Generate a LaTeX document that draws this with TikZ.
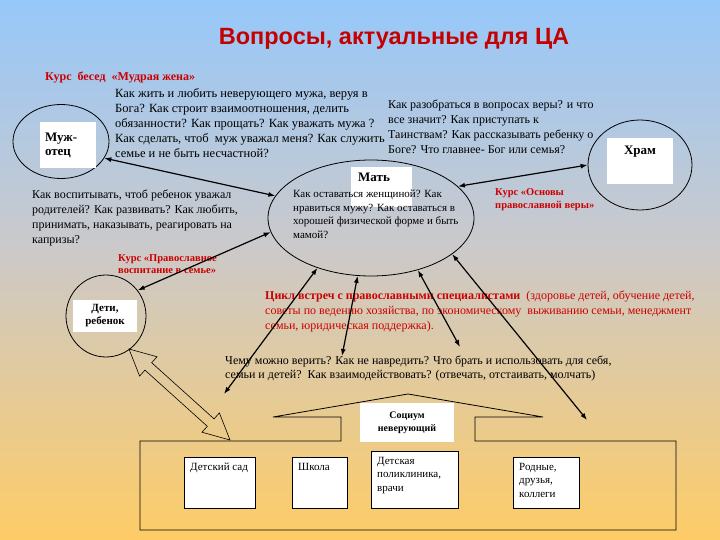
\documentclass[tikz,border=0pt]{standalone}
\usepackage{fontspec}
\setmainfont{Liberation Serif}
\newfontfamily\arialf{Liberation Sans}
\usetikzlibrary{shapes.geometric,arrows.meta}
\definecolor{rd}{RGB}{204,0,0}
\definecolor{ttl}{RGB}{196,0,0}
\definecolor{bgtop}{RGB}{150,200,250}
\definecolor{bgmid}{RGB}{202,201,204}
\definecolor{bgbot}{RGB}{254,204,102}
\begin{document}
\begin{tikzpicture}[x=1pt,y=-1pt,
  txt/.style={anchor=north west, inner sep=0, align=left, font=\fontsize{12}{15}\selectfont},
  redtxt/.style={anchor=north west, inner sep=0, align=left, text=rd, font=\bfseries\fontsize{10.5}{12.5}\selectfont},
  oval/.style={ellipse, draw, line width=0.8pt, inner sep=0},
  wlabel/.style={fill=white, inner sep=0, align=center, font=\bfseries\fontsize{13}{14}\selectfont},
  wbox/.style={draw, fill=white, line width=0.8pt, inner sep=0, anchor=north west},
  boxtxt/.style={anchor=north west, inner sep=0, align=left, font=\fontsize{11}{13.5}\selectfont},
  link/.style={line width=1.2pt, {Latex[length=7pt,width=5pt]}-{Latex[length=7pt,width=5pt]}}
]
\shade[top color=bgtop, bottom color=bgmid] (0,0) rectangle (720,240);
\shade[top color=bgmid, bottom color=bgbot] (0,240) rectangle (720,540);
\useasboundingbox (0,0) rectangle (720,540);

\node[font=\arialf\bfseries\fontsize{23.5}{26}\selectfont, text=ttl, inner sep=0, anchor=base] (title) at (394,45) {Вопросы, актуальные для ЦА};

% ellipses
\node[oval, minimum width=96, minimum height=74] (muzh) at (61,141.5) {};
\node[oval, minimum width=206, minimum height=116] (mat) at (371,218) {};
\node[oval, minimum width=104, minimum height=90] (hram) at (640,165) {};
\node[oval, minimum width=80, minimum height=82] (deti) at (106,316) {};

% white label boxes
\node[wlabel, minimum width=56, minimum height=46, text width=46, inner xsep=5, align=left] (muzhl) at (68,145) {Муж-\\отец};
\node[fill=white, minimum width=61, minimum height=40, anchor=north west, inner sep=0] (matbox) at (351,167) {};
\node[font=\bfseries\fontsize{13}{14}\selectfont, anchor=base west, inner sep=0] (matl) at (358,182) {Мать};
\node[fill=white, minimum width=66, minimum height=46, anchor=north west, inner sep=0] (hrambox) at (607,138) {};
\node[font=\bfseries\fontsize{13}{14}\selectfont, anchor=base, inner sep=0] (hraml) at (640,155) {Храм};
\node[wlabel, font=\bfseries\fontsize{11}{13}\selectfont, minimum width=64, minimum height=32] (detil) at (105,316) {Дети,\\ребенок};

% house
\draw[line width=0.8pt] (140,441) -- (341,441) -- (341,417) -- (273,417) -- (408,394) -- (543,417) -- (475,417) -- (475,441) -- (676,441) -- (676,530) -- (140,530) -- cycle;
\node[wlabel, font=\bfseries\fontsize{10}{13}\selectfont, minimum width=94, minimum height=39] (soc) at (407,422.5) {Социум\\неверующий};

\node[wbox, minimum width=71, minimum height=51] (sad) at (184,457) {};
\node[wbox, minimum width=55, minimum height=51] (shk) at (292,457) {};
\node[wbox, minimum width=87, minimum height=57] (pol) at (371,451) {};
\node[wbox, minimum width=66, minimum height=51] (rod) at (513,457) {};
\node[boxtxt] (sadt) at (190,463) {Детский сад};
\node[boxtxt] (shkt) at (298,463) {Школа};
\node[boxtxt] (polt) at (377,457) {Детская\\поликлиника,\\врачи};
\node[boxtxt] (rodt) at (519,463) {Родные,\\друзья,\\коллеги};

% texts
\node[redtxt, font=\bfseries\fontsize{12}{13}\selectfont] (kurs1) at (45,72) {Курс\ \ бесед\ \ «Мудрая жена»};
\node[txt, font=\fontsize{12.5}{15}\selectfont] (q1) at (115,88.5) {Как жить и любить неверующего мужа, веруя в\\Бога? Как строит взаимоотношения, делить\\обязанности? Как прощать? Как уважать мужа ?\\Как сделать, чтоб\ \ муж уважал меня? Как служить\\семье и не быть несчастной?};
\node[txt] (q2) at (388,99.6) {Как разобраться в вопросах веры? и что\\все значит? Как приступать к\\Таинствам? Как рассказывать ребенку о\\Боге? Что главнее- Бог или семья?};
\node[txt] (q3) at (32,189.6) {Как воспитывать, чтоб ребенок уважал\\родителей? Как развивать? Как любить,\\принимать, наказывать, реагировать на\\капризы?};
\node[txt, font=\fontsize{11}{13.5}\selectfont] (q4) at (293,190) {Как оставаться женщиной? Как\\нравиться мужу? Как оставаться в\\хорошей физической форме и быть\\мамой?};
\node[redtxt] (kurs2) at (495,188.5) {Курс «Основы\\православной веры»};
\node[redtxt] (kurs3) at (118,254) {Курс «Православное\\воспитание в семье»};
\node[txt, text=rd] (cycle) at (265,290.6) {{\bfseries Цикл встреч с православными специалистами}\ \ (здоровье детей, обучение детей,\\советы по ведению хозяйства, по экономическому\ \ выживанию семьи, менеджмент\\семьи, юридическая поддержка).};
\node[txt, font=\fontsize{12}{14}\selectfont] (q5) at (225,355.6) {Чему можно верить? Как не навредить? Что брать и использовать для себя,\\семьи и детей?\ \ Как взаимодействовать? (отвечать, отстаивать, молчать)};

% fat hollow double arrow between children and the society block
\draw[line width=0.6pt] (129,349) -- (139.61,376.08) -- (144.97,370.14) -- (207.33,426.30) -- (201.97,432.24) -- (230,440) -- (219.39,412.92) -- (214.03,418.86) -- (151.67,362.70) -- (157.03,356.76) -- cycle;

% arrows
\coordinate (ea) at (224,394);
\coordinate (eb) at (342,356);
\coordinate (ec) at (460,347);
\coordinate (ed) at (587,420);
\draw[link] (muzh.-21) -- (mat.167);
\draw[link] (mat.20) -- (hram.180);
\draw[link] (mat.188) -- (deti.39);
\draw[link] (mat.223) -- (ea);
\draw[link] (mat.257) -- (eb);
\draw[link] (mat.-48) -- (ec);
\draw[link] (mat.-24) -- (ed);
\end{tikzpicture}
\end{document}
